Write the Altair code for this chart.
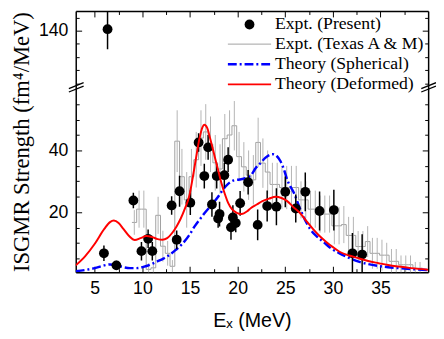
import altair as alt
import pandas as pd

# ---------------- data ----------------
# Expt. (Present)
pres_x = [5.96, 7.27, 9.05, 9.9, 10.6, 11.04, 13.07, 13.6, 13.9, 15.03, 15.9, 16.9,
          16.5, 17.8, 17.3, 19.0, 18.6, 18.1, 17.95, 19.5, 19.8, 19.3, 20.26, 21.1,
          22.1, 23.1, 24.07, 25.0, 26.1, 27.1, 28.6, 30.1, 32.05, 33.07, 6.34]
pres_y = [6.7, 2.8, 23.8, 7.4, 11.4, 7.4, 22.2, 11.1, 26.8, 23.1, 42.6, 41.0,
          31.7, 31.7, 22.5, 37.0, 32.0, 19.4, 18.0, 18.3, 16.5, 15.1, 22.9, 29.7,
          15.9, 22.0, 21.8, 26.6, 21.2, 26.6, 20.4, 20.7, 6.7, 6.3, 140.6]
pres_err = [2.5, 1.5, 2.5, 3, 3, 3, 3, 3, 5, 4, 3, 4,
            4, 4, 4, 4, 4, 4, 3, 4, 3, 4, 4, 4,
            5, 5, 6, 5, 4.5, 6.3, 6.3, 6.6, 6.6, 6.6, 7.6]

# Expt. (Texas A & M) histogram (bin left edges, values, errors)
hist_left = [round(8.9 + 0.5 * i, 2) for i in range(61)]
hist_val = [16.7, 21, 21, 1.5, 2, 19, 9, 6.7, 2.5, 43,
            31.5, 24, 31.5, 37, 44, 46, 42, 36, 34, 43.8,
            45, 48, 38, 34.7, 32, 30.5, 42.6, 35.9, 33, 29,
            29, 28, 28, 28, 28, 24, 24, 21, 21, 19.4,
            19.4, 19.4, 15.6, 15.6, 16, 12.5, 12.5, 8.9, 8.9, 10.5,
            6.7, 6.7, 6.1, 6.1, 4.1, 4.1, 3, 3, 3, 1.9,
            1.9]
hist_err = [4, 6, 6, 2, 2, 6, 5, 4, 2, 10,
            9, 9, 9, 9, 9, 9, 9, 9, 8, 8,
            8, 8, 8, 8, 8, 8, 8, 8, 7, 7,
            7, 7, 7, 7, 7, 6, 6, 6, 6, 6,
            6, 6, 6, 6, 6, 6, 6, 5, 5, 5,
            5, 5, 5, 4, 4, 4, 3, 3, 3, 2,
            2]
HIST_W = 0.5

# Theory (Spherical)
sph_x = [3.0, 4.0, 5.0, 6.0, 6.6, 7.3, 8.0, 8.7, 9.4, 10.1, 10.8, 11.5, 12.2, 12.8,
         13.5, 14.2, 14.9, 15.5, 16.1, 16.6, 17.3, 17.95, 18.5, 19.0, 19.6, 20.2,
         20.8, 21.4, 21.9, 22.4, 22.9, 23.4, 23.7, 24.1, 24.5, 24.9, 25.2, 25.6,
         25.9, 26.5, 27.0, 27.6, 28.3, 29.0, 29.8, 30.7, 31.7, 32.7, 33.7, 34.8,
         35.8, 36.9, 38.2, 40.0]
sph_y = [0.9, 1.3, 1.9, 2.8, 3.1, 2.8, 2.2, 1.9, 1.9, 2.3, 3.0, 4.0, 5.0, 6.1,
         7.8, 9.8, 12.5, 15.5, 18.0, 20.0, 22.5, 25.0, 27.5, 29.2, 30.3, 30.6,
         31.0, 32.0, 34.3, 35.9, 37.6, 38.6, 38.8, 38.2, 36.5, 33.5, 30.5, 28.0,
         26.3, 21.5, 18.0, 14.6, 12.2, 10.4, 8.3, 6.7, 5.2, 4.0, 3.2, 2.6,
         2.2, 1.9, 1.6, 1.3]

# Theory (Deformed)
def_x = [3.0, 4.0, 5.0, 6.0, 6.6, 7.0, 7.5, 8.0, 8.6, 9.2, 9.8, 10.4, 11.0, 11.6,
         12.1, 12.6, 13.1, 13.6, 14.0, 14.5, 14.9, 15.3, 15.6, 16.0, 16.3, 16.5,
         16.8, 17.1, 17.6, 18.0, 18.3, 18.7, 19.0, 19.4, 19.9, 20.4, 21.0, 21.4,
         22.0, 22.6, 23.3, 24.0, 24.6, 25.2, 25.8, 26.5, 27.2, 27.9, 28.6, 29.3,
         30.0, 30.7, 31.7, 32.7, 33.7, 34.8, 35.8, 36.9, 38.2, 40.0]
def_y = [2.8, 5.8, 9.8, 14.6, 16.8, 17.3, 16.5, 14.6, 12.3, 11.0, 11.6, 12.3, 12.0, 11.3,
         11.1, 11.6, 13.2, 15.5, 17.8, 21.5, 25.0, 31.5, 37.0, 44.0, 47.5, 48.3,
         47.3, 44.0, 37.9, 33.0, 29.4, 25.5, 23.0, 21.0, 19.8, 19.4, 20.3, 21.4,
         22.5, 23.6, 24.4, 25.0, 24.6, 23.6, 21.8, 19.9, 17.2, 14.6, 12.3, 10.4,
         8.7, 7.2, 6.0, 5.1, 4.2, 3.5, 2.9, 2.4, 1.9, 1.4]

# axes
x_major = [5, 10, 15, 20, 25, 30, 35]
x_minor = [7.5, 12.5, 17.5, 22.5, 27.5, 32.5, 37.5]
y_major = [20, 40, 140]
y_minor = [5, 10, 15, 25, 30, 35, 45, 50, 55, 120, 125, 130, 135, 145]

# broken y axis: lower part [0.6, 61.3], upper part [119.5, 147.5]
W, H = 359, 266
BREAK_PX = 75
Y_DOMAIN = [0.6, 61.3, 119.5, 147.5]
Y_RANGE = [H, BREAK_PX, BREAK_PX, 0]
X_DOMAIN = [3, 40]

# ---------------- tables ----------------
pres_df = pd.DataFrame({"x": pres_x, "y": pres_y,
                        "lo": [a - b for a, b in zip(pres_y, pres_err)],
                        "hi": [a + b for a, b in zip(pres_y, pres_err)]})
hist_df = pd.DataFrame({"x": hist_left + [hist_left[-1] + HIST_W],
                        "y": hist_val + [hist_val[-1]]})
hist_err_df = pd.DataFrame({"x": [v + HIST_W / 2 for v in hist_left],
                            "lo": [a - b for a, b in zip(hist_val, hist_err)],
                            "hi": [a + b for a, b in zip(hist_val, hist_err)]})
sph_df = pd.DataFrame({"x": sph_x, "y": sph_y})
def_df = pd.DataFrame({"x": def_x, "y": def_y})
one = pd.DataFrame({"v": [20]})

xs = alt.Scale(domain=X_DOMAIN, nice=False, zero=False)
ys = alt.Scale(domain=Y_DOMAIN, range=Y_RANGE, nice=False, zero=False)

LAB = dict(labelFont="Liberation Sans", labelFontSize=18, labelColor="black")
FRAME = dict(domainColor="black", domainWidth=1.5)
TICK = dict(tickColor="black", tickWidth=1, labels=False, grid=False, title=None)
MAJ, MIN = 6, 3.5


def xaxis_layer(axis):
    return alt.Chart(one).mark_point(opacity=0).encode(
        x=alt.X("v:Q", scale=xs, axis=axis))


def yaxis_layer(axis):
    return alt.Chart(one).mark_point(opacity=0).encode(
        y=alt.Y("v:Q", scale=ys, axis=axis))


def rule_px(x1, x2, y1, y2, color="black", width=1.3, dash=None):
    kw = dict(color=color, strokeWidth=width, clip=False)
    if dash:
        kw["strokeDash"] = dash
    return alt.Chart(one).mark_rule(**kw).encode(
        x=alt.value(x1), x2=alt.value(x2), y=alt.value(y1), y2=alt.value(y2))


def text_px(x, y, s):
    return alt.Chart(one).mark_text(align="left", baseline="middle", font="Liberation Serif",
                                    fontSize=18, color="black").encode(
        x=alt.value(x), y=alt.value(y), text=alt.value(s))


XE = lambda f: alt.X(f, type="quantitative", scale=xs, axis=None)
YE = lambda f: alt.Y(f, type="quantitative", scale=ys, axis=None)

hist_line = alt.Chart(hist_df).mark_line(interpolate="step-after", color="#a0a0a0",
                                         strokeWidth=1, clip=True).encode(x=XE("x"), y=YE("y"))
hist_bars = alt.Chart(hist_err_df).mark_rule(color="#b4b4b4", strokeWidth=1, clip=True).encode(
    x=XE("x"), y=YE("lo"), y2="hi")
sph_line = alt.Chart(sph_df).mark_line(color="#0000ff", strokeWidth=2.5, strokeDash=[9, 3, 2, 3],
                                       interpolate="monotone", clip=True).encode(x=XE("x"), y=YE("y"))
def_line = alt.Chart(def_df).mark_line(color="#ff0000", strokeWidth=2, interpolate="monotone",
                                       clip=True).encode(x=XE("x"), y=YE("y"))
pres_bars = alt.Chart(pres_df).mark_rule(color="black", strokeWidth=1.5, clip=True).encode(
    x=XE("x"), y=YE("lo"), y2="hi")
pres_pts = alt.Chart(pres_df).mark_circle(size=100, color="black", opacity=1, clip=True).encode(
    x=XE("x"), y=YE("y"))

axes = [
    # bottom: labels + title + frame line
    xaxis_layer(alt.Axis(orient="bottom", values=x_major, ticks=False, domain=True, labelPadding=8,
                         grid=False, title="Eₓ (MeV)", titleFont="Liberation Sans",
                         titleFontSize=20, titleFontWeight="normal", titleColor="black",
                         titlePadding=13, **FRAME, **LAB)),
    # inward ticks at bottom
    xaxis_layer(alt.Axis(orient="top", offset=-H, values=x_major, tickSize=MAJ, domain=False, **TICK)),
    xaxis_layer(alt.Axis(orient="top", offset=-H, values=x_minor, tickSize=MIN, domain=False, **TICK)),
    # top frame with inward ticks
    xaxis_layer(alt.Axis(orient="bottom", offset=-H, values=x_major, tickSize=MAJ, domain=True,
                         **FRAME, **TICK)),
    xaxis_layer(alt.Axis(orient="bottom", offset=-H, values=x_minor, tickSize=MIN, domain=False, **TICK)),
    # left: labels + title + frame
    yaxis_layer(alt.Axis(orient="left", values=y_major, ticks=False, domain=True, labelPadding=8,
                         grid=False, title="ISGMR Strength (fm⁴/MeV)",
                         titleFont="Liberation Serif", titleFontSize=23,
                         titleFontWeight="normal", titleColor="black",
                         titleX=-48, titleY=133, titleAngle=270, titleAlign="center",
                         titleBaseline="alphabetic", **FRAME, **LAB)),
    # inward ticks on left
    yaxis_layer(alt.Axis(orient="right", offset=-W, values=y_major, tickSize=MAJ, domain=False, **TICK)),
    yaxis_layer(alt.Axis(orient="right", offset=-W, values=y_minor, tickSize=MIN, domain=False, **TICK)),
    # right frame with inward ticks
    yaxis_layer(alt.Axis(orient="left", offset=-W, values=y_major, tickSize=MAJ, domain=True,
                         **FRAME, **TICK)),
    yaxis_layer(alt.Axis(orient="left", offset=-W, values=y_minor, tickSize=MIN, domain=False, **TICK)),
]

breaks = [
    rule_px(-7, 8, BREAK_PX + 4, BREAK_PX - 2), rule_px(-7, 8, BREAK_PX + 7.5, BREAK_PX + 1.5),
    rule_px(W - 7, W + 8, BREAK_PX + 4, BREAK_PX - 2), rule_px(W - 7, W + 8, BREAK_PX + 7.5, BREAK_PX + 1.5),
]

legend = [
    alt.Chart(one).mark_circle(size=100, color="black", opacity=1).encode(x=alt.value(177), y=alt.value(13.7)),
    rule_px(155, 199, 33.7, 33.7, color="#a0a0a0", width=1),
    rule_px(155, 199, 54.3, 54.3, color="#0000ff", width=2.5, dash=[9, 3, 2, 3]),
    rule_px(155, 199, 74.7, 74.7, color="#ff0000", width=2),
    text_px(203, 13.7, "Expt. (Present)"),
    text_px(203, 33.7, "Expt. (Texas A & M)"),
    text_px(203, 54.3, "Theory (Spherical)"),
    text_px(203, 74.7, "Theory (Deformed)"),
]

chart = alt.layer(hist_line, hist_bars, sph_line, pres_bars, pres_pts, def_line,
                  *axes, *breaks, *legend).properties(
    width=W, height=H,
    autosize=alt.AutoSizeParams(type="none"),
    padding={"left": 69, "top": 0, "right": 8, "bottom": 65},
    background="white").resolve_axis(x="independent", y="independent").configure_view(stroke=None)

chart.save("out.html", embed_options={"renderer": "svg", "actions": False})
